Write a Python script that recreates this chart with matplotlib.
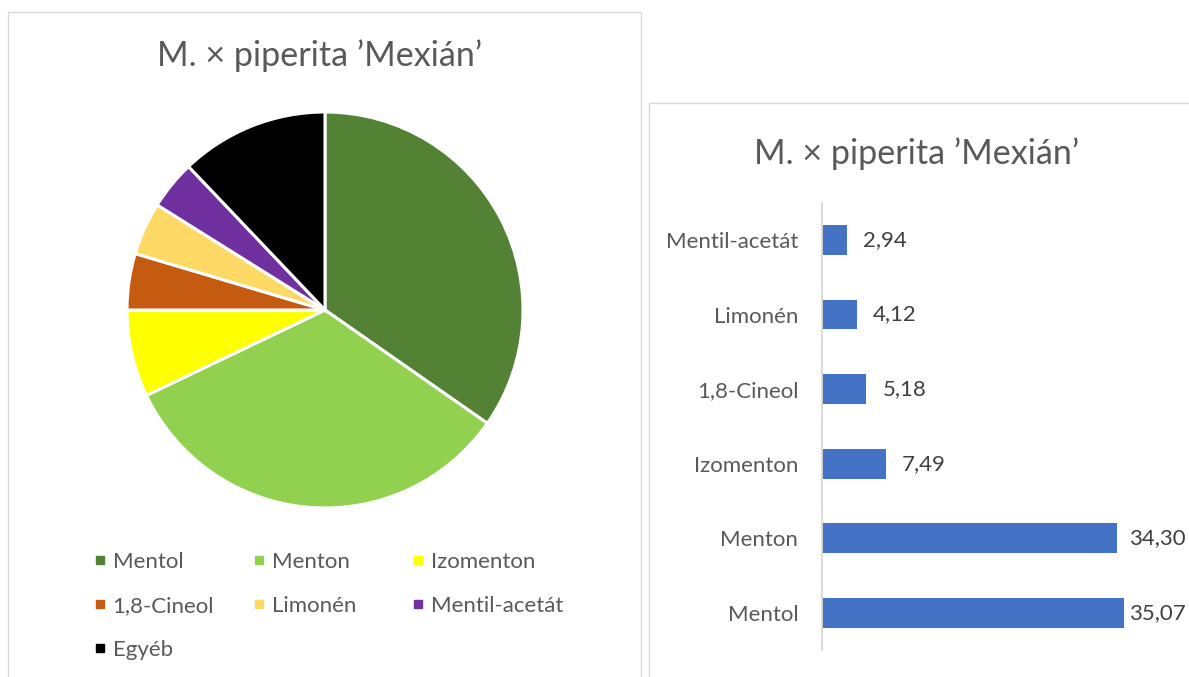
import matplotlib
matplotlib.use("Agg")
import matplotlib.pyplot as plt
from matplotlib.patches import Rectangle
from matplotlib.lines import Line2D

# ---------------- data ----------------
title = "M. × piperita ’Mexián’"

pie_labels = ["Mentol", "Menton", "Izomenton", "1,8-Cineol", "Limonén", "Mentil-acetát", "Egyéb"]
pie_values = [34.7, 33.2, 7.1, 4.6, 4.3, 4.0, 12.1]
pie_colors = ["#548235", "#92D050", "#FFFF00", "#C55A11", "#FFD966", "#7030A0", "#000000"]

bar_labels = ["Mentol", "Menton", "Izomenton", "1,8-Cineol", "Limonén", "Mentil-acetát"]
bar_values = [35.07, 34.30, 7.49, 5.18, 4.12, 2.94]
bar_color = "#4472C4"

# ---------------- style ----------------
FONT = ["Lato", "DejaVu Sans"]
plt.rcParams["font.family"] = FONT
TXT = "#595959"
VAL = "#404040"
BORDER = "#D9D9D9"
FS = 16.0
TFS = 24.6

W, H = 1189, 677
fig = plt.figure(figsize=(W / 100, H / 100), dpi=100)
fig.patch.set_facecolor("white")


def fx(px):
    return px / W


def fy(py):
    return 1 - py / H


# panel borders
fig.patches.append(Rectangle((fx(7.5), fy(700)), fx(640.5) - fx(7.5), (700 - 11.7) / H,
                             transform=fig.transFigure, fill=False, edgecolor=BORDER, linewidth=1.0))
fig.patches.append(Rectangle((fx(649), fy(700)), fx(1220) - fx(649), (700 - 103.3) / H,
                             transform=fig.transFigure, fill=False, edgecolor=BORDER, linewidth=1.0))

# titles
fig.text(fx(320), fy(66.0), title, ha="center", va="baseline", fontsize=TFS, color=TXT)
fig.text(fx(917), fy(163.5), title, ha="center", va="baseline", fontsize=TFS, color=TXT)

# ---------------- pie ----------------
cx, cy, r = 325, 310, 198
ax1 = fig.add_axes([fx(cx - r), fy(cy + r), 2 * r / W, 2 * r / H])
ax1.pie(pie_values, colors=pie_colors, startangle=90, counterclock=False,
        wedgeprops=dict(edgecolor="white", linewidth=2.2))
ax1.set_xlim(-1, 1)
ax1.set_ylim(-1, 1)
ax1.set_aspect("equal")
ax1.axis("off")

# legend: three columns of equal width
handles = [Line2D([], [], marker="s", linestyle="none", markersize=6,
                  markerfacecolor=c, markeredgecolor=c) for c in pie_colors]
col_members = [[0, 3, 6], [1, 4], [2, 5]]
col_x = [94.6, 253.6, 412.6]
for xs, members in zip(col_x, col_members):
    fig.legend([handles[i] for i in members], [pie_labels[i] for i in members],
               loc="upper left", bbox_to_anchor=(fx(xs), fy(552.0)),
               bbox_transform=fig.transFigure, frameon=False, borderpad=0,
               borderaxespad=0, handlelength=0.48, handletextpad=0.33,
               labelspacing=1.08, fontsize=FS, labelcolor=TXT)

# ---------------- bar ----------------
x0, x1 = 821.7, 1166.4
ytop, ybot = 202.7, 650.0
ax2 = fig.add_axes([fx(x0), fy(ybot), (x1 - x0) / W, (ybot - ytop) / H])
pos = list(range(len(bar_values)))
ax2.barh(pos, bar_values, height=0.4, color=bar_color)
ax2.set_xlim(0, 40)
ax2.set_ylim(-0.5, len(bar_values) - 0.5)
for s in ["top", "right", "bottom"]:
    ax2.spines[s].set_visible(False)
ax2.spines["left"].set_color(BORDER)
ax2.spines["left"].set_linewidth(1.3)
ax2.set_xticks([])
ax2.set_yticks(pos)
ax2.set_yticklabels(bar_labels, fontsize=FS, color=TXT)
ax2.tick_params(axis="y", length=0, pad=16.8)
ax2.patch.set_alpha(0)

anns = []
for p, v in zip(pos, bar_values):
    a = ax2.annotate(f"{v:.2f}".replace(".", ","), xy=(v, p), xytext=(11.5, 0),
                     textcoords="offset points", ha="left", va="center",
                     fontsize=FS, color=VAL, annotation_clip=False)
    anns.append(a)

# keep data labels inside the chart area (as the original does)
fig.canvas.draw()
renderer = fig.canvas.get_renderer()
for a in anns:
    bb = a.get_window_extent(renderer)
    if bb.x1 > W - 3:
        shift_px = bb.x1 - (W - 3)
        a.xyann = (11.5 - shift_px * 72 / 100, 0)

fig.savefig("out.png", dpi=100, facecolor="white")
